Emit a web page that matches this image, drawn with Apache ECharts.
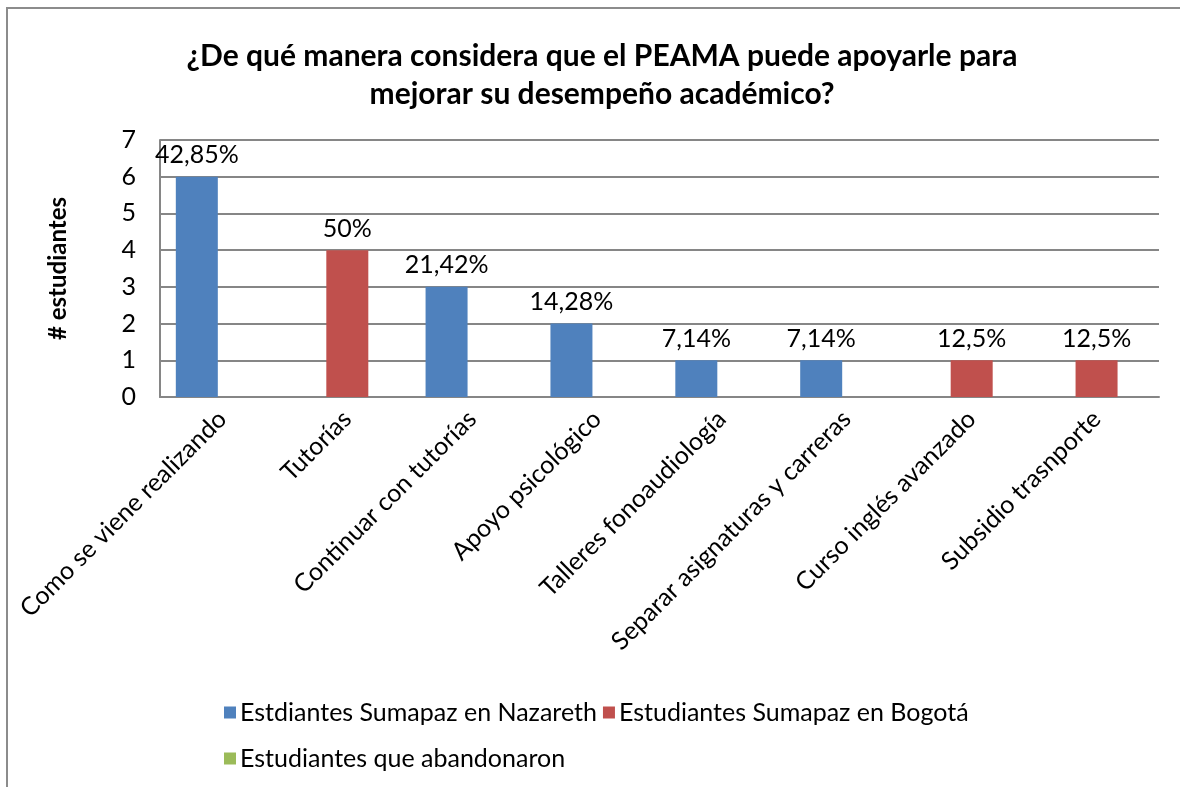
<!DOCTYPE html>
<html>
<head>
<meta charset="utf-8">
<script src="https://cdn.jsdelivr.net/npm/echarts@6/dist/echarts.min.js"></script>
<style>
    html, body { margin: 0; padding: 0; background: #fff; }
    #chart { width: 1180px; height: 787px; }
</style>
</head>
<body>
<div id="chart"></div>
<script>
// 数据
const categories = [
    "Como se viene realizando", "Tutorías", "Continuar con tutorías", "Apoyo psicológico",
    "Talleres fonoaudiología", "Separar asignaturas y carreras", "Curso inglés avanzado", "Subsidio trasnporte"
];
const seriesNames = ["Estdiantes Sumapaz en Nazareth", "Estudiantes Sumapaz en Bogotá", "Estudiantes que abandonaron"];
const nazareth = [6, 0, 3, 2, 1, 1, 0, 0];
const bogota = [0, 4, 0, 0, 0, 0, 1, 1];
const abandonaron = [0, 0, 0, 0, 0, 0, 0, 0];
const nazarethLabels = ["42,85%", "", "21,42%", "14,28%", "7,14%", "7,14%", "", ""];
const bogotaLabels = ["", "50%", "", "", "", "", "12,5%", "12,5%"];
const yTicks = [0, 1, 2, 3, 4, 5, 6, 7];
const colors = ["#4F81BD", "#C0504D", "#9BBB59"];

const FONT = "Lato, 'Open Sans', sans-serif";

function barSeries(name, values, labels, color) {
    return {
        name: name,
        type: "bar",
        barWidth: 42,
        barGap: "-39%",
        data: values,
        itemStyle: { color: color },
        label: {
            show: !!labels,
            position: "top",
            distance: 9,
            fontFamily: FONT,
            fontSize: 25,
            color: "#000",
            formatter: (p) => (labels ? labels[p.dataIndex] : ""),
        },
    };
}

const chart = echarts.init(document.getElementById("chart"));

const legendText = { fontFamily: FONT, fontSize: 25, color: "#000", padding: [0, 0, 0, -1] };

chart.setOption({
    animation: false,
    textStyle: { fontFamily: FONT },
    graphic: [{
        type: "rect",
        shape: { x: 7, y: 8, width: 1200, height: 800 },
        style: { fill: "none", stroke: "#8c8c8c", lineWidth: 2 },
        silent: true,
    }],
    title: {
        text: "¿De qué manera considera que el PEAMA puede apoyarle para\nmejorar su desempeño académico?",
        left: 597,
        top: 32,
        textAlign: "center",
        textStyle: { fontFamily: FONT, fontSize: 30, fontWeight: "bold", color: "#000", lineHeight: 38 },
    },
    legend: [
        {
            data: [seriesNames[0], seriesNames[1]],
            left: 219,
            top: 695,
            itemWidth: 12,
            itemHeight: 12,
            itemGap: 6,
            icon: "rect",
            textStyle: legendText,
        },
        {
            data: [seriesNames[2]],
            left: 219,
            top: 741,
            itemWidth: 12,
            itemHeight: 12,
            icon: "rect",
            textStyle: legendText,
        },
    ],
    grid: { left: 160, right: 21, top: 140, bottom: 390, containLabel: false },
    xAxis: {
        type: "category",
        data: categories,
        axisLine: { lineStyle: { color: "#868686", width: 2 } },
        axisTick: { show: false },
        axisLabel: {
            rotate: 45,
            interval: 0,
            margin: 18,
            fontFamily: FONT,
            fontSize: 25,
            color: "#000",
        },
    },
    yAxis: {
        type: "value",
        min: yTicks[0],
        max: yTicks[yTicks.length - 1],
        interval: 1,
        name: "# estudiantes",
        nameLocation: "middle",
        nameGap: 90,
        nameRotate: 90,
        nameTextStyle: { fontFamily: FONT, fontSize: 24, fontWeight: "bold", color: "#000" },
        axisLine: { show: true, lineStyle: { color: "#868686", width: 2 } },
        axisTick: { show: false },
        splitLine: { lineStyle: { color: "#868686", width: 2 } },
        axisLabel: { fontFamily: FONT, fontSize: 25, color: "#000", margin: 24 },
    },
    series: [
        barSeries(seriesNames[0], nazareth, nazarethLabels, colors[0]),
        barSeries(seriesNames[1], bogota, bogotaLabels, colors[1]),
        barSeries(seriesNames[2], abandonaron, null, colors[2]),
    ],
});
</script>
</body>
</html>
